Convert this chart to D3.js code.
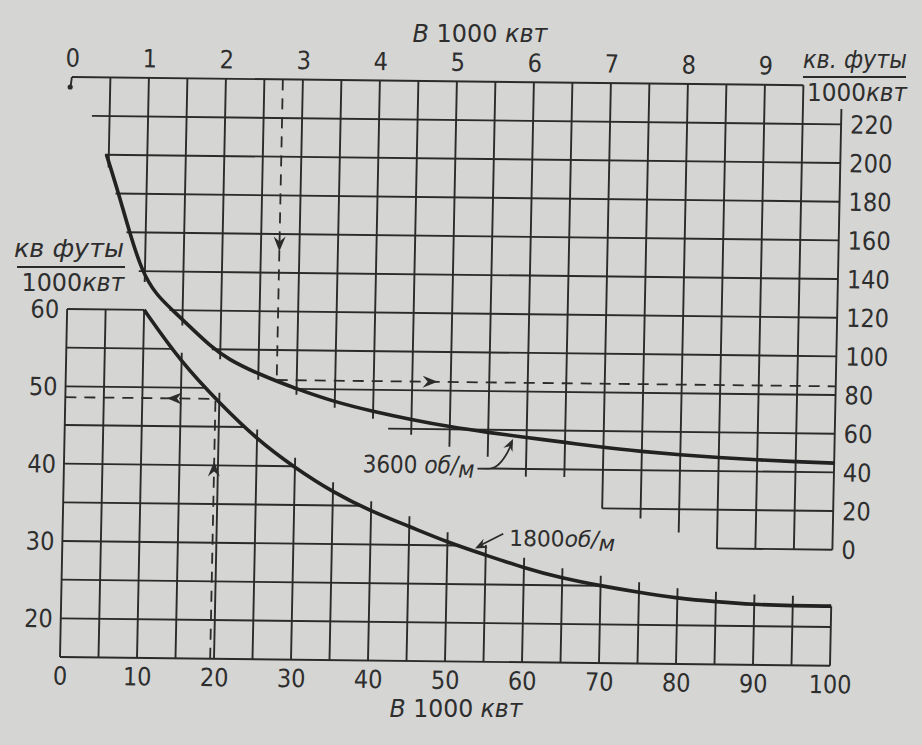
<!DOCTYPE html>
<html><head><meta charset="utf-8">
<script src="https://cdn.jsdelivr.net/npm/d3@7"></script>
<style>
html,body{margin:0;padding:0;background:#d5d5d3;}
svg{display:block;}
text{font-family:"DejaVu Sans Condensed","DejaVu Sans",sans-serif;font-stretch:condensed;fill:#2e2e2e;}
</style></head><body>
<svg id="chart" width="922" height="745"></svg>
<script>
// ---------------- data ----------------
const topTicks = [0,1,2,3,4,5,6,7,8,9];                 // В 1000 квт (upper scale)
const bottomTicks = [0,10,20,30,40,50,60,70,80,90,100];  // В 1000 квт (lower scale)
const leftTicks = [20,30,40,50,60];                      // кв футы / 1000 квт (1800 об/м)
const rightTicks = [0,20,40,60,80,100,120,140,160,180,200,220]; // кв. футы / 1000 квт (3600 об/м)

// 3600 об/м curve : power (thousand kW, top scale) -> area (sq ft / 1000 kW, right scale)
const rpm3600Kw   = [0.47,0.63,0.79,0.96,1.15,1.37,1.6, 1.86,2.1,2.5, 3.0,3.5, 4.0, 4.5, 5.0, 5.5, 6.0, 6.5,7.0, 7.5, 8.0, 8.5,9.0,9.5, 10];
const rpm3600Area = [200, 181, 160, 140, 128, 120, 111.5,102, 95, 87.5,80, 73.5,68.8,64.8,61.3,58.6,56.2,54, 51.5,49.7,48.2,47, 46, 45.3,44.8];

// 1800 об/м curve : power (thousand kW, bottom scale) -> area (sq ft / 1000 kW, left scale)
const rpm1800Kw   = [10, 15,  20,  25,  30,  35,  40,  45,  50,  55,  60,  65,  70,  75,  80,  85,  90,  95,  100];
const rpm1800Area = [60, 53.2,48.1,43.4,39.8,36.7,34.3,32.4,30.4,28.8,27.2,25.9,25.0,24.2,23.5,23.1,22.8,22.7,22.7];

// worked examples (dashed lines): [power, area]
const example3600 = [2.74, 84.5];
const example1800 = [19.5, 48.6];

const curveNames = ["3600", "1800"];
const curveUnit = "об/м";

// ---------------- drawing ----------------
const INK = "#2b2b2b";
const svg = d3.select("#chart");
svg.append("rect").attr("width",922).attr("height",745).attr("fill","#d5d5d3");

// scales (the scanned sheet is slightly skewed; reproduced by an affine transform)
const xB = d3.scaleLinear([0,100],[60,830]);
const xT = d3.scaleLinear([0,10],[60,830]);
const yL = d3.scaleLinear([15,90],[657,77]);
const yR = d3.scaleLinear([-60,240],[657,77]);
const kx = -0.0205, ky = 0.0113;
const g = svg.append("g")
  .attr("transform",`matrix(1,${ky},${kx},1,${(-kx*657).toFixed(3)},${(-ky*60).toFixed(3)})`);

function lerp(xs, ys, x){
  if (x <= xs[0]) return ys[0];
  if (x >= xs[xs.length-1]) return ys[ys.length-1];
  for (let i=1;i<xs.length;i++) if (x <= xs[i]) {
    const f = (x-xs[i-1])/(xs[i]-xs[i-1]); return ys[i-1] + f*(ys[i]-ys[i-1]);
  }
}
const r3600 = t => lerp(rpm3600Kw, rpm3600Area, t);
const t3600 = r => lerp(rpm3600Area.slice().reverse(), rpm3600Kw.slice().reverse(), r);
const v1800 = u => lerp(rpm1800Kw, rpm1800Area, u);
const u1800 = v => lerp(rpm1800Area.slice().reverse(), rpm1800Kw.slice().reverse(), v);

const grid = g.append("g").attr("stroke",INK).attr("stroke-width",1.9).attr("fill","none");
function seg(x1,y1,x2,y2){
  grid.append("line").attr("x1",x1).attr("y1",y1).attr("x2",x2).attr("y2",y2);
}

// upper grid (top / right scales)
const upperStubEnds = {4:65, 4.5:57, 5:51, 5.5:46, 6:36, 6.5:36, 7:20, 7.5:15, 8:8, 8.5:0, 9:0, 9.5:0, 10:0};
const upperRowStarts = {240:0, 220:0.27, 200:0.45, 60:4.2, 40:5.55, 20:7, 0:8.5};
d3.range(1,21).map(i=>i/2).forEach(t=>{
  const top = t===10 ? 228 : 240;
  const bot = (t in upperStubEnds) ? upperStubEnds[t] : r3600(t) - 3;
  seg(xT(t), yR(top), xT(t), yR(bot));
});
d3.range(0,241,20).forEach(r=>{
  const s = (r in upperRowStarts) ? upperRowStarts[r] : t3600(r) - 0.04;
  const e = r===240 ? 9.5 : 10;
  seg(xT(s), yR(r), xT(e), yR(r));
});
// hook at top-left corner
grid.append("path").attr("d",`M${xT(0)},${yR(240)} L${xT(0)-1},${yR(240)+9}`);
g.append("circle").attr("cx",xT(0)-1.5).attr("cy",yR(240)+10).attr("r",2.6).attr("fill",INK);

// lower grid (bottom / left scales)
const minLow = d3.min(rpm1800Area);
d3.range(0,101,5).forEach(u=>{
  const top = u<=10 ? 60 : (u===100 ? v1800(100) : v1800(u)+1.3);
  seg(xB(u), yL(15), xB(u), yL(top));
});
d3.range(15,61,5).forEach(v=>{
  const e = v===60 ? 10 : (v < minLow ? 100 : u1800(v));
  seg(xB(0), yL(v), xB(e), yL(v));
});

// curves
const line3600 = d3.line().x(d=>xT(d[0])).y(d=>yR(d[1])).curve(d3.curveBasis);
const line1800 = d3.line().x(d=>xB(d[0])).y(d=>yL(d[1])).curve(d3.curveBasis);
g.append("path").attr("d", line3600(d3.zip(rpm3600Kw, rpm3600Area)))
  .attr("fill","none").attr("stroke","#222").attr("stroke-width",3.6);
g.append("path").attr("d", line1800(d3.zip(rpm1800Kw, rpm1800Area)))
  .attr("fill","none").attr("stroke","#222").attr("stroke-width",3.6);

// dashed example lines
const dash = g.append("g").attr("stroke",INK).attr("stroke-width",1.8).attr("stroke-dasharray","11,8").attr("fill","none");
dash.append("line").attr("x1",xT(example3600[0])).attr("y1",yR(240)).attr("x2",xT(example3600[0])).attr("y2",yR(example3600[1]));
dash.append("line").attr("x1",xT(example3600[0])).attr("y1",yR(example3600[1])).attr("x2",xT(10)).attr("y2",yR(example3600[1]));
dash.append("line").attr("x1",xB(0)).attr("y1",yL(example1800[1])).attr("x2",xB(example1800[0])).attr("y2",yL(example1800[1]));
dash.append("line").attr("x1",xB(example1800[0])).attr("y1",yL(15)).attr("x2",xB(example1800[0])).attr("y2",yL(example1800[1]));

function arrow(x,y,angle){
  g.append("path").attr("d","M0,0 L-15,-6 L-10,0 L-15,6 Z")
    .attr("fill",INK).attr("transform",`translate(${x},${y}) rotate(${angle})`);
}
arrow(xT(example3600[0]), yR(151), 90);
arrow(xT(4.83), yR(example3600[1]), 0);
arrow(xB(13.2), yL(example1800[1]), 180);
arrow(xB(example1800[0]), yL(40.5), -90);

// axes (tick labels only)
function styleAxis(sel){
  sel.select(".domain").remove();
  sel.selectAll(".tick line").remove();
  sel.attr("font-size",25).attr("font-family",null);
  sel.selectAll("text").attr("fill","#2e2e2e");
}
g.append("g").attr("transform",`translate(0,${yL(15)})`)
  .call(d3.axisBottom(xB).tickValues(bottomTicks).tickSize(0)).call(styleAxis)
  .selectAll("text").attr("dy",null).attr("y",19).attr("dominant-baseline","central");
g.append("g").attr("transform",`translate(0,${yR(240)})`)
  .call(d3.axisTop(xT).tickValues(topTicks).tickSize(0)).call(styleAxis)
  .selectAll("text").attr("dy",null).attr("y",-19).attr("dominant-baseline","central");
g.append("g").attr("transform",`translate(${xB(0)},0)`)
  .call(d3.axisLeft(yL).tickValues(leftTicks).tickSize(0)).call(styleAxis)
  .selectAll("text").attr("dy",null).attr("x",-8).attr("dominant-baseline","central");
g.append("g").attr("transform",`translate(${xT(10)},0)`)
  .call(d3.axisRight(yR).tickValues(rightTicks).tickSize(0)).call(styleAxis)
  .selectAll("text").attr("dy",null).attr("x",9).attr("dominant-baseline","central");

// curve labels with leaders
function unitLabel(sel, num, sep){
  sel.append("tspan").text(num + sep);
  sel.append("tspan").attr("font-style","italic").text(curveUnit.slice(0,2));
  sel.append("tspan").attr("font-style","italic").text("/");
  sel.append("tspan").attr("font-style","italic").attr("dy",4).text(curveUnit.slice(3));
}
{
  const tx = xT(5.85), ty = yR(r3600(5.85));
  g.append("path").attr("d",`M${tx-37},${ty+33} L${tx-26},${ty+33} C${tx-16},${ty+33} ${tx-9},${ty+22} ${tx-3},${ty+7}`)
    .attr("fill","none").attr("stroke",INK).attr("stroke-width",1.8);
  g.append("path").attr("d","M0,0 L-12,-5 L-8,0 L-12,5 Z").attr("fill",INK)
    .attr("transform",`translate(${tx-2},${ty+3}) rotate(-66)`);
  const t = g.append("text").attr("x",tx-40).attr("y",ty+30).attr("text-anchor","end")
    .attr("dominant-baseline","central").attr("font-size",24);
  unitLabel(t, curveNames[0], " ");
}
{
  const tx = xB(53.2), ty = yL(v1800(53.2));
  g.append("line").attr("x1",tx+6).attr("y1",ty-4).attr("x2",tx+31).attr("y2",ty-17)
    .attr("stroke",INK).attr("stroke-width",1.8);
  g.append("path").attr("d","M0,0 L-12,-5 L-8,0 L-12,5 Z").attr("fill",INK)
    .attr("transform",`translate(${tx+3},${ty-2}) rotate(153)`);
  const t = g.append("text").attr("x",tx+37).attr("y",ty-13)
    .attr("dominant-baseline","central").attr("font-size",22)
    .attr("textLength",106).attr("lengthAdjust","spacingAndGlyphs");
  unitLabel(t, curveNames[1], "");
}

// titles (absolute placement)
function mixed(x,y,parts,size,len){
  const t = svg.append("text").attr("x",x).attr("y",y).attr("text-anchor","middle")
    .attr("dominant-baseline","central").attr("font-size",size);
  parts.forEach(p=>t.append("tspan").attr("font-style",p[1]?"italic":null).text(p[0]));
  if (len) t.attr("textLength",len).attr("lengthAdjust","spacingAndGlyphs");
  return t;
}
mixed(480,33,[["В",1],[" 1000 ",0],["квт",1]],25,135);
mixed(456,709,[["В",1],[" 1000 ",0],["квт",1]],24,133);
mixed(69,249,[["кв футы",1]],24,110);
svg.append("line").attr("x1",17).attr("x2",125).attr("y1",267).attr("y2",267).attr("stroke",INK).attr("stroke-width",1.8);
mixed(73,283,[["1000",0],["квт",1]],24,103);
mixed(855,60,[["кв. футы",1]],24,104);
svg.append("line").attr("x1",803).attr("x2",906).attr("y1",77).attr("y2",77).attr("stroke",INK).attr("stroke-width",1.8);
mixed(857,93,[["1000",0],["квт",1]],24,100);
</script>
</body></html>
